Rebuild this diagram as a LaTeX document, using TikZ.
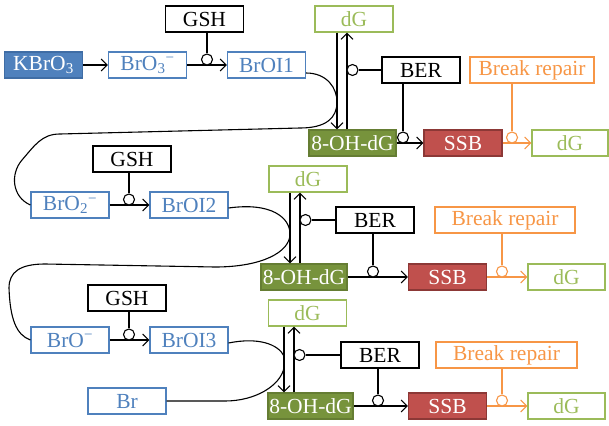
\documentclass[tikz,border=0pt]{standalone}
\usepackage{fontspec}
\setmainfont{Liberation Serif}
\usetikzlibrary{arrows.meta}

\definecolor{kblue}{HTML}{4F81BD}
\definecolor{kbluedark}{HTML}{3F6DA5}
\definecolor{klgreen}{HTML}{9BBB59}
\definecolor{kdgreen}{HTML}{77933C}
\definecolor{kred}{HTML}{C0504D}
\definecolor{kreddark}{HTML}{8C3836}
\definecolor{korange}{HTML}{F79646}

\tikzset{
  box/.style={draw, line width=1.1pt, minimum height=26pt, minimum width=78pt,
    inner sep=0pt, font=\fontsize{21.5}{24}\selectfont},
  blackbox/.style={box},
  bluebox/.style={box, draw=kblue, text=kblue},
  solidblue/.style={box, draw=kbluedark, fill=kblue, text=white},
  greenbox/.style={box, draw=klgreen, text=klgreen},
  ohbox/.style={box, draw=kdgreen!85!black, fill=kdgreen, text=white},
  ssbbox/.style={box, draw=kreddark, fill=kred, text=white},
  orangebox/.style={box, draw=korange, text=korange},
  junc/.style={circle, draw, line width=1.1pt, minimum size=11pt, inner sep=0pt, fill=white},
  arr/.style={-{Straight Barb[length=6pt,width=12pt]}},
}

\begin{document}
\begin{tikzpicture}[x=1pt, y=-1pt, line width=1.1pt]
\useasboundingbox (0,0) rectangle (609,425);

% first row
\node[solidblue] (kbro) at (43.5,65) {KBrO\textsubscript{3}};
\node[bluebox] (broa) at (147.5,65) {BrO\textsubscript{3}\textsuperscript{−}};
\node[blackbox] (gsha) at (204.5,19) {GSH};
\node[bluebox] (broia) at (266.5,65) {BrOI1};
\node[greenbox] (dga) at (354,19) {dG};
\node[ohbox, minimum width=87pt] (oha) at (352.5,143) {8-OH-dG};
\node[blackbox] (bera) at (421,70) {BER};
\node[ssbbox] (ssba) at (463,143) {SSB};
\node[orangebox, minimum width=124pt] (repa) at (532,70) {Break repair};
\node[greenbox, minimum width=76pt] (dgra) at (570,143) {dG};

% second row
\node[blackbox] (gshb) at (132,159) {GSH};
\node[bluebox] (brob) at (70,205) {BrO\textsubscript{2}\textsuperscript{−}};
\node[bluebox] (broib) at (189,205) {BrOI2};
\node[greenbox] (dgb) at (308,179) {dG};
\node[ohbox, minimum width=86pt] (ohb) at (304,277) {8-OH-dG};
\node[blackbox] (berb) at (375,220) {BER};
\node[ssbbox] (ssbb) at (447.5,277) {SSB};
\node[orangebox, minimum width=140pt] (repb) at (505,220) {Break repair};
\node[greenbox, minimum width=77pt] (dgrb) at (566.5,277) {dG};

% third row
\node[blackbox] (gshc) at (127,298) {GSH};
\node[bluebox] (broc) at (70,340) {BrO\textsuperscript{−}};
\node[bluebox] (broic) at (189,340) {BrOI3};
\node[bluebox] (br) at (127,401) {Br};
\node[greenbox] (dgc) at (307.5,313) {dG};
\node[ohbox, minimum width=85pt] (ohc) at (310.5,406) {8-OH-dG};
\node[blackbox] (berc) at (380,355) {BER};
\node[ssbbox] (ssbc) at (447.5,406) {SSB};
\node[orangebox, minimum width=141pt] (repc) at (506.5,355) {Break repair};
\node[greenbox, minimum width=77pt] (dgrc) at (566.5,406) {dG};

\coordinate (dna) at (337,0);
\coordinate (upa) at (347,0);
\coordinate (dnb) at (290,0);
\coordinate (upb) at (300,0);
\coordinate (dnc) at (284,0);
\coordinate (upc) at (294,0);
\coordinate (meetc) at (284,356);
\coordinate (meetd) at (284,368);

% GSH steps
\draw[arr] (kbro) -- (broa);
\draw[arr] (broa) -- (broia);
\node[junc] (ja) at (207,59.5) {};
\draw (gsha.south -| ja) -- (ja);
\draw[arr] (brob) -- (broib);
\node[junc] (jb) at (129,199.5) {};
\draw (gshb.south -| jb) -- (jb);
\draw[arr] (broc) -- (broic);
\node[junc] (jc) at (129,334.5) {};
\draw (gshc.south -| jc) -- (jc);

% long bends
\draw ([yshift=-8pt]broia.east) .. controls (327,73) and (337,88) .. (337,102)
  .. controls (337,118) and (326,128) .. (300,128) -- (60,134)
  .. controls (42,134) and (35,145) .. (22,160)
  .. controls (10,174) and (12,197) .. (brob.west);
\draw ([yshift=-3pt]broib.east) .. controls (272,202) and (290,218) .. (290,234)
  .. controls (290,252) and (262,267) .. (215,267) -- (45,264)
  .. controls (20,264) and (9,272) .. (9,288)
  .. controls (10,318) and (16,335) .. (broc.west);
\draw ([yshift=-3pt]broic.east) .. controls (258,337) and (278,344) .. (meetc);
\draw (br.east) -- (225,401) .. controls (255,401) and (280,386) .. (meetd);

% dG / 8-OH-dG, BER, break repair
\draw[arr] (dga.south -| dna) -- (oha.north -| dna);
\draw[arr] (oha.north -| upa) -- (dga.south -| upa);
\node[junc] (jba) at (352.5,70) {};
\draw (bera) -- (jba);
\draw[arr] (oha) -- (ssba);
\node[junc] (jsa) at (403,137.5) {};
\draw (bera.south -| jsa) -- (jsa);
\draw[arr, korange] (ssba) -- (dgra);
\node[junc, draw=korange] (jra) at (512,137.5) {};
\draw[korange] (repa.south -| jra) -- (jra);

\draw[arr] (dgb.south -| dnb) -- (ohb.north -| dnb);
\draw[arr] (ohb.north -| upb) -- (dgb.south -| upb);
\node[junc] (jbb) at (305.5,220) {};
\draw (berb) -- (jbb);
\draw[arr] (ohb) -- (ssbb);
\node[junc] (jsb) at (373,271.5) {};
\draw (berb.south -| jsb) -- (jsb);
\draw[arr, korange] (ssbb) -- (dgrb);
\node[junc, draw=korange] (jrb) at (502,271.5) {};
\draw[korange] (repb.south -| jrb) -- (jrb);

\draw[arr] (dgc.south -| dnc) -- (ohc.north -| dnc);
\draw[arr] (ohc.north -| upc) -- (dgc.south -| upc);
\node[junc] (jbc) at (299.5,355) {};
\draw (berc) -- (jbc);
\draw[arr] (ohc) -- (ssbc);
\node[junc] (jsc) at (378,400.5) {};
\draw (berc.south -| jsc) -- (jsc);
\draw[arr, korange] (ssbc) -- (dgrc);
\node[junc, draw=korange] (jrc) at (502,400.5) {};
\draw[korange] (repc.south -| jrc) -- (jrc);

\end{tikzpicture}
\end{document}
